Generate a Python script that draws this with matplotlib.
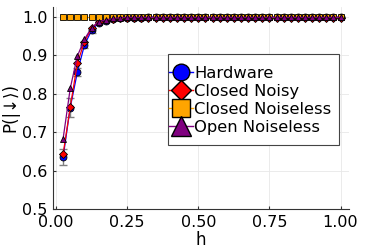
import numpy as np
import matplotlib.pyplot as plt
from matplotlib.lines import Line2D
from matplotlib.patches import Rectangle

# field values h = 0.025 ... 1.0
h = np.arange(1, 41) * 0.025

hardware = [0.635, 0.764, 0.856, 0.927, 0.965, 0.985, 0.990, 0.994, 0.996, 0.997,
            0.998, 0.998, 0.999, 0.999, 0.999, 0.999, 0.999, 0.999, 0.999, 0.999,
            0.999, 0.999, 0.999, 0.999, 0.999, 0.999, 0.999, 0.999, 0.999, 0.999,
            0.999, 0.999, 0.999, 0.999, 0.999, 0.999, 0.999, 0.999, 0.999, 0.999]
hardware_err = [0.02, 0.025, 0.01, 0.008, 0.006, 0.004, 0.003, 0.002, 0.002, 0.002] + [0.001] * 30
closed_noisy = [0.643, 0.765, 0.879, 0.936, 0.970, 0.988, 0.991, 0.995, 0.997, 0.998,
                0.998, 0.998, 0.998, 0.998, 0.998, 0.998, 0.998, 0.998, 0.998, 0.998,
                0.998, 0.998, 0.998, 0.998, 0.998, 0.998, 0.998, 0.998, 0.998, 0.998,
                0.998, 0.998, 0.998, 0.998, 0.998, 0.998, 0.998, 0.998, 0.998, 0.998]
closed_noiseless = [1.0] * 40
open_noiseless = [0.683, 0.814, 0.898, 0.942, 0.972, 0.988, 0.992, 0.996, 0.998, 0.999,
                  0.999, 0.999, 0.999, 0.999, 0.999, 0.999, 0.999, 0.999, 0.999, 0.999,
                  0.999, 0.999, 0.999, 0.999, 0.999, 0.999, 0.999, 0.999, 0.999, 0.999,
                  0.999, 0.999, 0.999, 0.999, 0.999, 0.999, 0.999, 0.999, 0.999, 0.999]

labels = ['Hardware', 'Closed Noisy', 'Closed Noiseless', 'Open Noiseless']
colors = ['blue', 'red', 'orange', 'purple']

fig = plt.figure(figsize=(3.74, 2.49), dpi=100)
ax = fig.add_axes([0.1425, 0.1606, 0.7905, 0.8114])

ax.errorbar(h, hardware, yerr=hardware_err, fmt='none', ecolor='#808080',
            elinewidth=1, capsize=3, zorder=1)
ax.plot(h, hardware, color=colors[0], marker='o', ms=5.0, mec='black', mew=0.6,
        lw=0.9, zorder=2)
ax.plot(h, closed_noisy, color=colors[1], marker='D', ms=4.0, mec='black', mew=0.6,
        lw=0.9, zorder=3)
ax.plot(h, closed_noiseless, color=colors[2], marker='s', ms=3.8, mec='black', mew=0.6,
        lw=0.9, zorder=3)
ax.plot(h, open_noiseless, color=colors[3], marker='^', ms=5.0, mec='black', mew=0.6,
        lw=0.9, zorder=4)

ax.set_xlim(-0.0095, 1.0295)
ax.set_ylim(0.5, 1.026)
ax.set_xticks([0.0, 0.25, 0.5, 0.75, 1.0])
ax.set_xticklabels(['0.00', '0.25', '0.50', '0.75', '1.00'])
ax.set_yticks([0.5, 0.6, 0.7, 0.8, 0.9, 1.0])
ax.grid(True, color='#e8e8e8', lw=0.6)
ax.set_axisbelow(True)
for s in ['top', 'right']:
    ax.spines[s].set_visible(False)
for s in ['left', 'bottom']:
    ax.spines[s].set_color('#333333')
ax.tick_params(direction='in', length=2.5, labelsize=11.5, color='#333333')
ax.tick_params(axis='y', pad=4)
ax.tick_params(axis='x', pad=4)
ax.set_xlabel('h', fontsize=12, labelpad=1)
ax.set_ylabel('P(|↓⟩)', fontsize=12, labelpad=2)

# legend frame drawn separately (tall vertical padding, tight horizontal)
ax.add_patch(Rectangle((0.388, 0.317), 0.578, 0.45, transform=ax.transAxes,
                       facecolor='white', edgecolor='#444444', lw=0.8, zorder=10))

handles = [
    Line2D([], [], color=colors[0], marker='o', ms=12, mec='black', mew=1, lw=1),
    Line2D([], [], color=colors[1], marker='D', ms=9.7, mec='black', mew=1, lw=1),
    Line2D([], [], color=colors[2], marker='s', ms=13.2, mec='black', mew=1, lw=1),
    Line2D([], [], color=colors[3], marker='^', ms=15, mec='black', mew=1, lw=1),
]
leg = ax.legend(handles, labels, loc='upper left', bbox_to_anchor=(0.39, 0.708),
                fontsize=11.8, handlelength=1.5, handletextpad=0.05,
                labelspacing=0.18, borderpad=0.0, borderaxespad=0,
                frameon=False)
leg.set_zorder(11)

fig.savefig('out.png', dpi=100)
